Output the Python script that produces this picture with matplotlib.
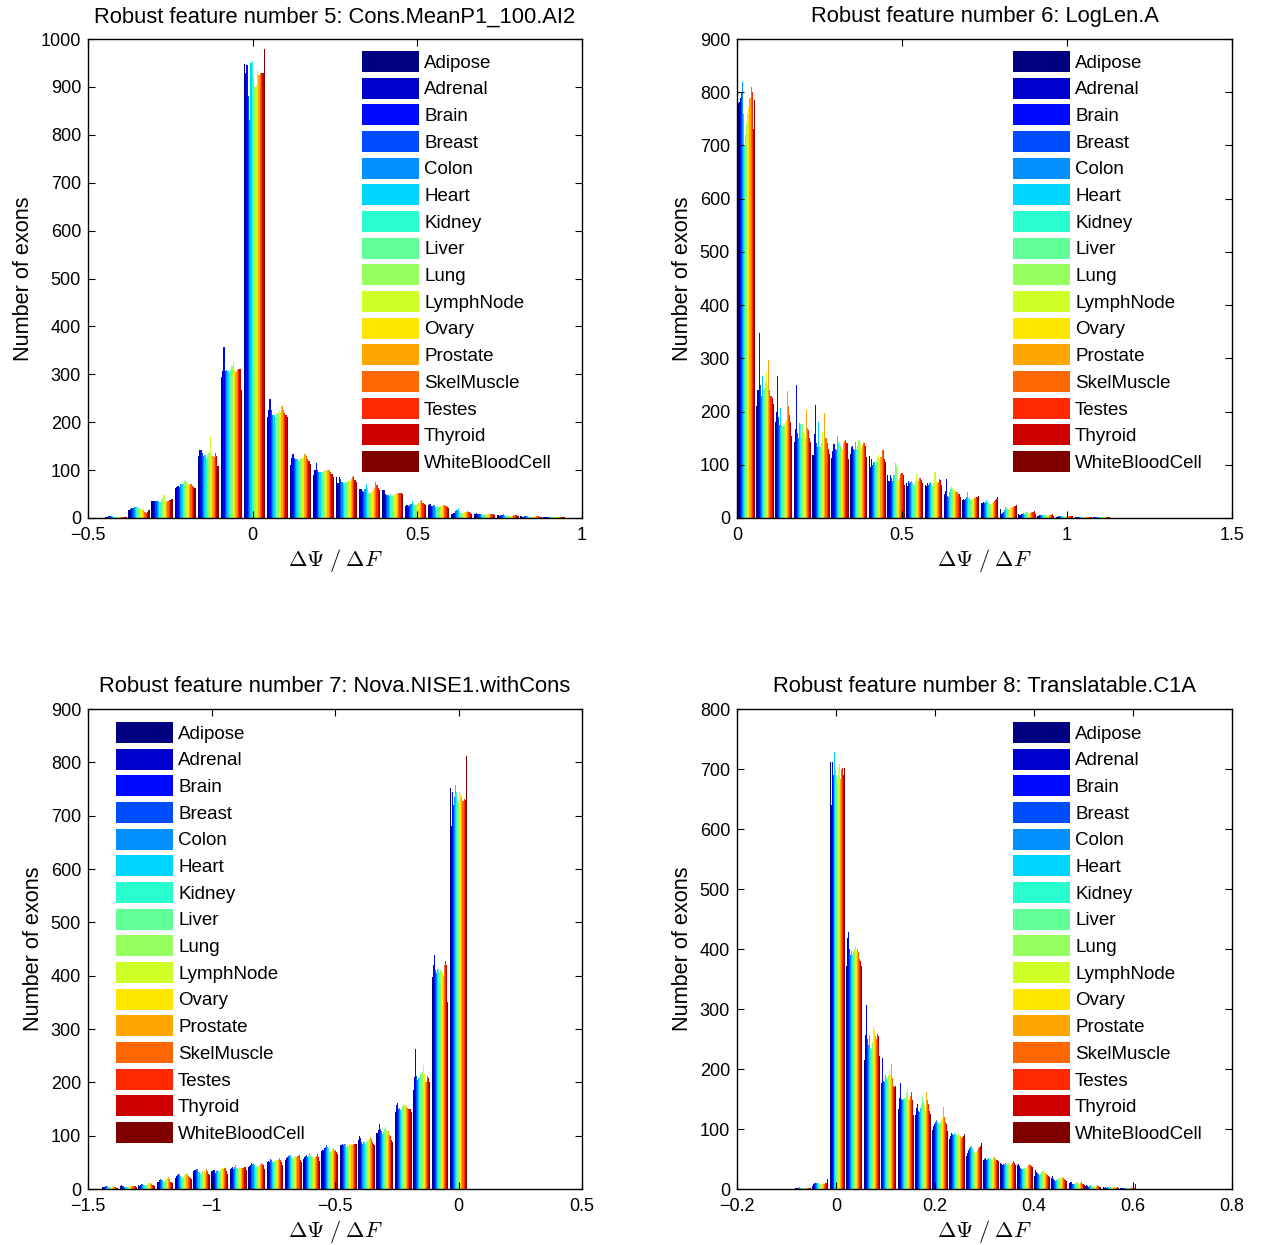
import numpy as np
import matplotlib
matplotlib.use('Agg')
import matplotlib.pyplot as plt
from matplotlib.patches import Patch

plt.rcParams['font.family'] = ['Liberation Sans', 'DejaVu Sans']
plt.rcParams['mathtext.fontset'] = 'cm'

tissues = ['Adipose', 'Adrenal', 'Brain', 'Breast', 'Colon', 'Heart', 'Kidney', 'Liver',
           'Lung', 'LymphNode', 'Ovary', 'Prostate', 'SkelMuscle', 'Testes', 'Thyroid',
           'WhiteBloodCell']

titles = ['Robust feature number 5: Cons.MeanP1_100.AI2',
          'Robust feature number 6: LogLen.A',
          'Robust feature number 7: Nova.NISE1.withCons',
          'Robust feature number 8: Translatable.C1A']

# ---- Panel 5 ----
centers_f5 = [-0.415, -0.345, -0.275, -0.205, -0.135, -0.065, 0.005, 0.075, 0.145, 0.215,
              0.285, 0.355, 0.425, 0.495, 0.565, 0.635, 0.705, 0.775, 0.845, 0.915]
counts_f5 = [
    [3, 3, 4, 4, 5, 4, 3, 3, 3, 3, 2, 2, 3, 3, 3, 3],
    [16, 18, 20, 21, 22, 23, 22, 20, 19, 18, 18, 17, 12, 10, 12, 16],
    [35, 36, 35, 36, 36, 36, 34, 38, 42, 49, 38, 34, 36, 37, 38, 40],
    [62, 64, 66, 65, 72, 72, 72, 78, 80, 76, 70, 68, 70, 66, 64, 62],
    [130, 142, 142, 135, 130, 132, 125, 132, 135, 172, 130, 130, 128, 135, 130, 109],
    [295, 307, 358, 307, 308, 306, 303, 312, 318, 325, 310, 305, 310, 312, 312, 267],
    [948, 930, 945, 880, 830, 950, 955, 920, 900, 905, 935, 925, 930, 930, 930, 980],
    [211, 225, 249, 225, 214, 216, 210, 218, 220, 225, 222, 233, 225, 220, 215, 211],
    [110, 125, 134, 125, 124, 124, 118, 120, 123, 128, 126, 134, 129, 124, 118, 113],
    [90, 100, 114, 100, 96, 96, 95, 95, 98, 100, 98, 100, 100, 95, 92, 85],
    [85, 74, 85, 82, 76, 74, 74, 75, 78, 80, 78, 82, 86, 87, 80, 75],
    [60, 61, 56, 55, 60, 70, 62, 53, 52, 55, 56, 62, 75, 68, 62, 58],
    [58, 58, 50, 47, 48, 46, 50, 45, 45, 48, 50, 52, 52, 53, 52, 50],
    [25, 27, 26, 28, 30, 35, 30, 28, 27, 30, 32, 36, 37, 32, 30, 28],
    [28, 30, 25, 26, 28, 22, 22, 22, 24, 25, 25, 28, 28, 26, 24, 20],
    [8, 10, 11, 14, 17, 21, 14, 11, 10, 11, 12, 13, 14, 12, 10, 9],
    [8, 10, 9, 9, 9, 8, 7, 7, 7, 7, 8, 8, 9, 9, 8, 7],
    [6, 5, 6, 7, 8, 6, 5, 5, 5, 5, 5, 5, 6, 6, 7, 5],
    [4, 3, 3, 4, 4, 4, 3, 3, 3, 3, 3, 3, 4, 4, 3, 3],
    [2, 2, 2, 3, 3, 2, 2, 2, 2, 2, 2, 2, 2, 2, 3, 2],
]

# ---- Panel 6 ----
centers_f6 = [0.028, 0.085, 0.141, 0.198, 0.255, 0.312, 0.368, 0.425, 0.482, 0.538,
              0.595, 0.652, 0.708, 0.765, 0.822, 0.879, 0.935, 0.992, 1.049, 1.105]
counts_f6 = [
    [780, 782, 790, 800, 820, 760, 700, 720, 740, 760, 770, 790, 810, 800, 730, 785],
    [210, 240, 348, 250, 230, 267, 240, 245, 255, 275, 250, 297, 240, 230, 225, 214],
    [180, 200, 267, 190, 175, 206, 175, 172, 175, 180, 185, 239, 210, 194, 180, 154],
    [143, 168, 250, 160, 150, 178, 176, 150, 176, 160, 150, 202, 170, 165, 150, 143],
    [118, 158, 212, 140, 133, 181, 135, 133, 140, 161, 130, 198, 150, 140, 130, 121],
    [112, 125, 139, 130, 128, 154, 143, 140, 135, 130, 128, 140, 145, 147, 140, 111],
    [120, 133, 135, 130, 128, 143, 130, 135, 147, 140, 132, 138, 140, 140, 135, 115],
    [116, 96, 110, 100, 105, 106, 100, 108, 112, 118, 110, 115, 128, 128, 110, 106],
    [80, 70, 80, 75, 70, 81, 80, 103, 100, 95, 70, 75, 82, 85, 80, 62],
    [65, 60, 70, 65, 68, 70, 66, 62, 70, 82, 75, 70, 75, 75, 72, 65],
    [62, 60, 66, 62, 65, 67, 64, 60, 65, 87, 70, 66, 68, 73, 72, 62],
    [45, 50, 73, 42, 40, 48, 55, 59, 56, 55, 52, 50, 48, 46, 45, 40],
    [34, 35, 33, 36, 40, 48, 38, 34, 33, 35, 36, 40, 38, 40, 40, 41],
    [28, 29, 30, 28, 30, 34, 30, 28, 26, 25, 28, 30, 32, 34, 36, 39],
    [16, 8, 10, 12, 15, 20, 18, 16, 15, 17, 18, 20, 21, 22, 23, 24],
    [7, 6, 8, 8, 10, 8, 12, 12, 11, 10, 9, 10, 11, 12, 14, 8],
    [4, 4, 5, 5, 6, 5, 6, 5, 5, 5, 4, 5, 6, 6, 7, 4],
    [2, 2, 3, 3, 3, 3, 3, 3, 2, 2, 3, 3, 3, 3, 4, 3],
    [2, 1, 2, 2, 2, 2, 2, 2, 2, 2, 2, 2, 2, 2, 2, 2],
    [1, 1, 1, 1, 1, 1, 1, 1, 1, 1, 1, 1, 1, 1, 2, 1],
]

# ---- Panel 7 ----
centers_f7 = [-1.411, -1.337, -1.263, -1.188, -1.114, -1.040, -0.966, -0.892, -0.817, -0.743,
              -0.669, -0.595, -0.521, -0.446, -0.372, -0.298, -0.224, -0.150, -0.075, -0.001]
counts_f7 = [
    [3, 3, 4, 5, 6, 5, 4, 3, 2, 3, 4, 5, 3, 3, 2, 2],
    [5, 8, 6, 5, 4, 4, 4, 3, 3, 4, 5, 6, 5, 5, 5, 4],
    [7, 6, 8, 10, 10, 8, 7, 8, 10, 12, 11, 12, 10, 8, 7, 6],
    [14, 13, 16, 18, 17, 16, 14, 14, 16, 18, 20, 22, 18, 14, 13, 12],
    [20, 24, 26, 28, 28, 25, 22, 20, 22, 26, 30, 28, 25, 22, 20, 18],
    [33, 36, 35, 38, 38, 32, 28, 30, 33, 35, 33, 30, 38, 34, 28, 26],
    [33, 35, 36, 30, 34, 36, 34, 32, 35, 38, 40, 38, 40, 40, 33, 28],
    [38, 40, 42, 38, 42, 45, 40, 38, 38, 42, 40, 40, 40, 40, 42, 35],
    [42, 44, 45, 48, 46, 45, 42, 44, 42, 43, 45, 45, 49, 47, 45, 38],
    [50, 52, 51, 56, 55, 50, 50, 52, 52, 55, 56, 55, 58, 55, 50, 45],
    [55, 58, 60, 62, 64, 64, 60, 58, 55, 60, 62, 60, 62, 63, 55, 50],
    [56, 60, 62, 63, 60, 62, 67, 62, 60, 62, 58, 60, 62, 66, 60, 52],
    [72, 74, 76, 78, 83, 78, 76, 72, 70, 74, 75, 77, 72, 74, 70, 66],
    [83, 82, 84, 82, 84, 84, 78, 82, 80, 84, 84, 83, 84, 84, 84, 84],
    [92, 99, 95, 88, 85, 88, 84, 88, 90, 92, 95, 97, 94, 88, 85, 83],
    [105, 110, 122, 112, 108, 104, 106, 112, 116, 111, 110, 108, 102, 100, 92, 89],
    [145, 158, 161, 150, 152, 148, 150, 155, 160, 158, 156, 155, 152, 150, 150, 145],
    [186, 210, 262, 212, 205, 208, 210, 215, 220, 233, 215, 201, 200, 211, 208, 201],
    [398, 420, 439, 410, 405, 412, 412, 405, 410, 408, 405, 400, 420, 428, 420, 351],
    [752, 681, 745, 720, 735, 758, 745, 730, 725, 745, 740, 735, 728, 731, 730, 811],
]

# ---- Panel 8 ----
centers_f8 = [-0.067, -0.032, 0.003, 0.037, 0.072, 0.106, 0.141, 0.175, 0.210, 0.244,
              0.279, 0.313, 0.348, 0.382, 0.417, 0.451, 0.486, 0.520, 0.555, 0.589]
counts_f8 = [
    [1, 1, 2, 2, 3, 2, 2, 2, 1, 1, 2, 2, 2, 1, 1, 2],
    [5, 8, 10, 10, 10, 10, 10, 8, 7, 8, 10, 9, 8, 10, 10, 16],
    [712, 640, 712, 690, 665, 729, 700, 690, 680, 700, 708, 684, 700, 701, 690, 701],
    [371, 418, 429, 400, 390, 396, 392, 395, 400, 405, 398, 400, 395, 384, 380, 372],
    [215, 257, 307, 250, 240, 257, 235, 232, 245, 272, 265, 255, 250, 259, 255, 221],
    [162, 177, 218, 180, 178, 190, 185, 182, 190, 200, 190, 209, 185, 172, 170, 172],
    [134, 151, 176, 150, 148, 150, 152, 148, 160, 166, 150, 148, 155, 162, 148, 123],
    [123, 135, 142, 130, 128, 135, 140, 153, 145, 140, 130, 162, 148, 142, 130, 125],
    [98, 105, 109, 112, 115, 112, 110, 108, 112, 115, 118, 136, 120, 112, 108, 97],
    [84, 88, 93, 92, 90, 93, 92, 90, 88, 92, 90, 88, 85, 87, 88, 92],
    [55, 60, 65, 68, 70, 71, 68, 65, 62, 60, 62, 65, 68, 70, 72, 76],
    [48, 50, 52, 48, 50, 52, 50, 52, 48, 50, 54, 54, 50, 48, 48, 46],
    [43, 42, 40, 41, 42, 43, 40, 42, 43, 42, 40, 42, 44, 47, 44, 40],
    [40, 42, 38, 35, 33, 33, 34, 35, 34, 35, 38, 40, 42, 40, 38, 36],
    [22, 32, 28, 26, 25, 24, 25, 28, 30, 33, 28, 26, 25, 24, 22, 20],
    [18, 21, 16, 15, 14, 15, 16, 17, 18, 18, 19, 20, 18, 17, 15, 14],
    [10, 12, 11, 9, 8, 9, 10, 10, 11, 10, 9, 10, 11, 9, 8, 6],
    [5, 6, 5, 4, 5, 6, 5, 4, 5, 5, 4, 5, 6, 5, 4, 4],
    [3, 2, 3, 2, 3, 3, 2, 3, 2, 3, 4, 3, 2, 2, 3, 2],
    [2, 2, 1, 2, 1, 2, 2, 1, 2, 1, 2, 3, 2, 2, 1, 8],
]

xticks_f5 = [-0.5, 0, 0.5, 1]
xticks_f6 = [0, 0.5, 1, 1.5]
xticks_f7 = [-1.5, -1, -0.5, 0, 0.5]
xticks_f8 = [-0.2, 0, 0.2, 0.4, 0.6, 0.8]
yticks_f5 = list(range(0, 1001, 100))
yticks_f6 = list(range(0, 901, 100))
yticks_f7 = list(range(0, 901, 100))
yticks_f8 = list(range(0, 801, 100))

W, H = 1261, 1245
fig = plt.figure(figsize=(W / 100, H / 100), dpi=100)
colors = plt.cm.jet(np.linspace(0, 1, 16))


def ax_at(l, t, r, b):
    return fig.add_axes([l / W, 1 - b / H, (r - l) / W, (b - t) / H])


panels = [
    (ax_at(88, 39, 582, 518), centers_f5, counts_f5, xticks_f5, yticks_f5, (362, 51)),
    (ax_at(737, 39, 1232, 518), centers_f6, counts_f6, xticks_f6, yticks_f6, (1013, 51)),
    (ax_at(88, 709, 582, 1189), centers_f7, counts_f7, xticks_f7, yticks_f7, (116, 722)),
    (ax_at(737, 709, 1232, 1189), centers_f8, counts_f8, xticks_f8, yticks_f8, (1013, 722)),
]

for i, (ax, centers, counts, xt, yt, legpos) in enumerate(panels):
    c = np.array(centers)
    arr = np.array(counts, dtype=float)
    spacing = np.median(np.diff(c))
    n = arr.shape[1]
    bw = spacing * 0.92 / n
    for k in range(n):
        ax.bar(c + (k - (n - 1) / 2) * bw, arr[:, k], width=bw, color=colors[k],
               linewidth=0, align='center')
    ax.set_xlim(xt[0], xt[-1])
    ax.set_ylim(yt[0], yt[-1])
    ax.set_xticks(xt)
    ax.set_yticks(yt)
    ax.set_xticklabels([('\u2212' if v < 0 else '') + ('%g' % abs(v)) for v in xt])
    ax.tick_params(direction='in', top=True, right=True, length=5, width=0.8,
                   labelsize=13, pad=5)
    ax.tick_params(axis='x', pad=6.5)
    for s in ax.spines.values():
        s.set_linewidth(1.0)
    ax.set_title(titles[i], fontsize=15.8, pad=12)
    ax.set_ylabel('Number of exons', fontsize=15.6, labelpad=5)
    ax.set_xlabel(r'$\Delta\Psi\;/\;\Delta F$', fontsize=16, labelpad=2)
    handles = [Patch(facecolor=colors[k], edgecolor='none') for k in range(n)]
    ax.legend(handles, tissues, loc='upper left',
              bbox_to_anchor=(legpos[0] / W, 1 - legpos[1] / H),
              bbox_transform=fig.transFigure, frameon=False, borderpad=0,
              borderaxespad=0, handlelength=3.04, handleheight=1.35,
              labelspacing=0.30, handletextpad=0.27, fontsize=13.5)

fig.savefig('out.png', dpi=100)
